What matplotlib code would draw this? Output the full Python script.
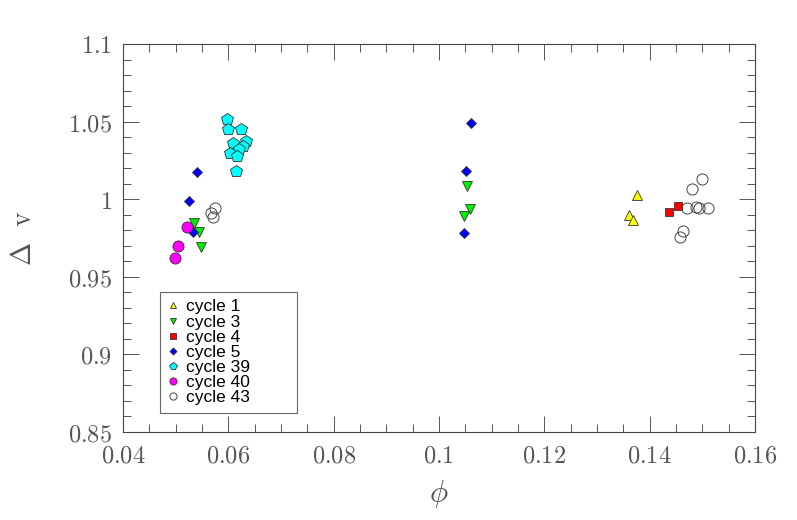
import matplotlib
matplotlib.use("Agg")
import matplotlib.pyplot as plt
from matplotlib.patches import Rectangle
from matplotlib.ticker import MultipleLocator, FuncFormatter

plt.rcParams["mathtext.fontset"] = "cm"

# cycle: (phase, delta v)
c1_x = [0.1376, 0.1361, 0.1369]
c1_y = [1.0027, 0.9898, 0.9866]

c3_x = [0.0535, 0.0545, 0.0549, 0.1053, 0.1059, 0.1047]
c3_y = [0.9845, 0.9787, 0.9690, 1.0085, 0.9937, 0.9892]

c4_x = [0.1437, 0.1453]
c4_y = [0.9920, 0.9959]

c5_x = [0.0540, 0.0525, 0.0533, 0.1061, 0.1051, 0.1047]
c5_y = [1.0177, 0.9988, 0.9790, 1.0491, 1.0182, 0.9782]

c39_x = [0.0597, 0.0600, 0.0625, 0.0609, 0.0633, 0.0628, 0.0621, 0.0604, 0.0617, 0.0615]
c39_y = [1.0515, 1.0450, 1.0450, 1.0364, 1.0377, 1.0343, 1.0322, 1.0300, 1.0278, 1.0182]

c40_x = [0.0521, 0.0504, 0.0498]
c40_y = [0.9819, 0.9698, 0.9619]

c43_x = [0.0575, 0.0568, 0.0570, 0.1500, 0.1480, 0.1470, 0.1488, 0.1493, 0.1511, 0.1463, 0.1458]
c43_y = [0.9943, 0.9911, 0.9885, 1.0130, 1.0063, 0.9941, 0.9950, 0.9941, 0.9941, 0.9795, 0.9756]


def tick_fmt(v, pos):
    s = f"{v:.2f}".rstrip("0").rstrip(".")
    return "$" + s + "$"


fig = plt.figure(figsize=(7.97, 5.2), dpi=100)
ax = fig.add_axes([0.1543, 0.1692, 0.7930, 0.7462])

edge = "#333333"
ax.plot(c1_x, c1_y, "^", ms=7, mfc="#ffff00", mec=edge, mew=0.6, label="cycle 1")
ax.plot(c3_x, c3_y, "v", ms=7, mfc="#00ee00", mec=edge, mew=0.6, label="cycle 3")
ax.plot(c4_x, c4_y, "s", ms=6, mfc="#ff0000", mec=edge, mew=0.6, label="cycle 4")
ax.plot(c5_x, c5_y, "D", ms=5.5, mfc="#0000ff", mec=edge, mew=0.6, label="cycle 5")
ax.plot(c39_x, c39_y, "p", ms=9, mfc="#00ffff", mec=edge, mew=0.6, label="cycle 39")
ax.plot(c40_x, c40_y, "o", ms=8, mfc="#ff00ff", mec=edge, mew=0.6, label="cycle 40")
ax.plot(c43_x, c43_y, "o", ms=8, mfc="none", mec="#444444", mew=0.7, label="cycle 43")

ax.set_xlim(0.04, 0.16)
ax.set_ylim(0.85, 1.1)
ax.xaxis.set_major_locator(MultipleLocator(0.02))
ax.xaxis.set_minor_locator(MultipleLocator(0.005))
ax.yaxis.set_major_locator(MultipleLocator(0.05))
ax.yaxis.set_minor_locator(MultipleLocator(0.01))
ax.xaxis.set_major_formatter(FuncFormatter(tick_fmt))
ax.yaxis.set_major_formatter(FuncFormatter(tick_fmt))

ax.tick_params(which="both", direction="in", top=True, right=True,
               color="#555555", width=0.7, labelsize=17.5, labelcolor="#555555")
ax.tick_params(which="major", length=11.5, pad=8)
ax.tick_params(which="minor", length=5.8)
for sp in ax.spines.values():
    sp.set_color("#444444")
    sp.set_linewidth(0.8)

ax.set_xlabel(r"$\phi$", fontsize=22, color="#555555", labelpad=8)
ax.set_ylabel(r"$\Delta\ \ \mathrm{v}$", fontsize=20, color="#555555", labelpad=22)

# legend box drawn separately: it is wider than the entries
ax.add_patch(Rectangle((0.0585, 0.049), 0.2165, 0.312, transform=ax.transAxes,
                       fill=True, facecolor="white", edgecolor="#666666",
                       linewidth=0.8, zorder=4))
leg = ax.legend(loc="upper left", bbox_to_anchor=(0.064, 0.351),
                prop={"family": "Liberation Sans", "size": 12.5},
                frameon=False, borderaxespad=0, handlelength=0.7,
                handletextpad=0.4, labelspacing=0.0, borderpad=0.2,
                markerscale=0.65)
leg.set_zorder(5)

fig.savefig("out.png", dpi=100)
